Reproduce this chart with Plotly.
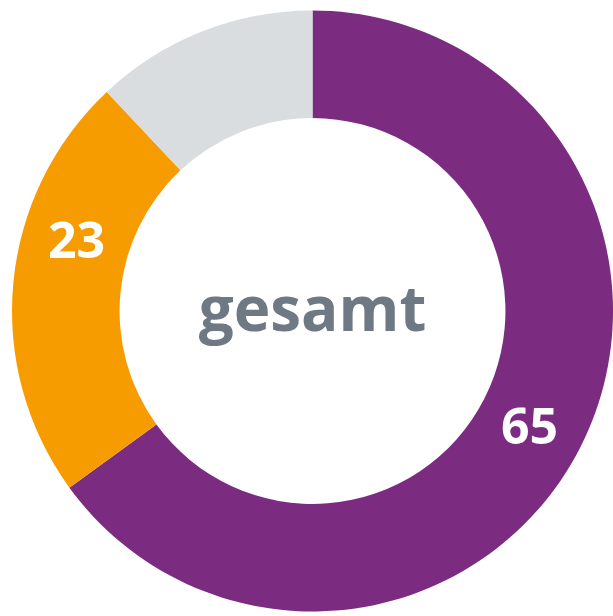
import math
import plotly.graph_objects as go

categories = ["Ja", "Nein", "Weiß nicht"]
values = [65, 23, 12]
labels_shown = ["65", "23", ""]
colors = ["#7B2C80", "#F79C00", "#DADDE0"]
center_text = "gesamt"

# label placement within each slice (fraction of the slice's angular span)
label_pos_frac = [0.505, 0.635, 0.5]

W, H = 613, 616
dom_x = [12 / W, 1.0]
dom_y = [4.5 / H, 605.5 / H]
hole = 0.642

fig = go.Figure(
    go.Pie(
        labels=categories,
        values=values,
        textinfo="none",
        marker=dict(colors=colors, line=dict(width=0)),
        hole=hole,
        sort=False,
        direction="clockwise",
        rotation=0,
        domain=dict(x=dom_x, y=dom_y),
        title=dict(
            text=center_text,
            position="middle center",
            font=dict(family="Open Sans", size=62, color="#6E7983", weight="bold"),
        ),
        hoverinfo="label+value",
    )
)

# value labels placed on the ring, derived from the slice angles
cx_px = (dom_x[0] + dom_x[1]) / 2 * W
cy_px = (dom_y[0] + dom_y[1]) / 2 * H
r_out = min((dom_x[1] - dom_x[0]) * W, (dom_y[1] - dom_y[0]) * H) / 2
r_lab = r_out * (1 + hole) / 2
total = sum(values)
cum = 0
for v, t, f in zip(values, labels_shown, label_pos_frac):
    ang = 2 * math.pi * (cum + f * v) / total
    cum += v
    if not t:
        continue
    px = cx_px + r_lab * math.sin(ang)
    py = cy_px + r_lab * math.cos(ang) + 2
    fig.add_annotation(
        x=px / W, y=py / H, xref="paper", yref="paper",
        text=t, showarrow=False, xanchor="center", yanchor="middle",
        font=dict(family="Open Sans", size=50, color="white", weight="bold"),
    )

fig.update_layout(
    width=W,
    height=H,
    margin=dict(l=0, r=0, t=0, b=0),
    paper_bgcolor="white",
    plot_bgcolor="white",
    showlegend=False,
)

fig.write_html(
    "out.html",
    config={"displayModeBar": False},
    post_script="document.body.style.margin='0px';document.body.style.overflow='hidden';",
)
